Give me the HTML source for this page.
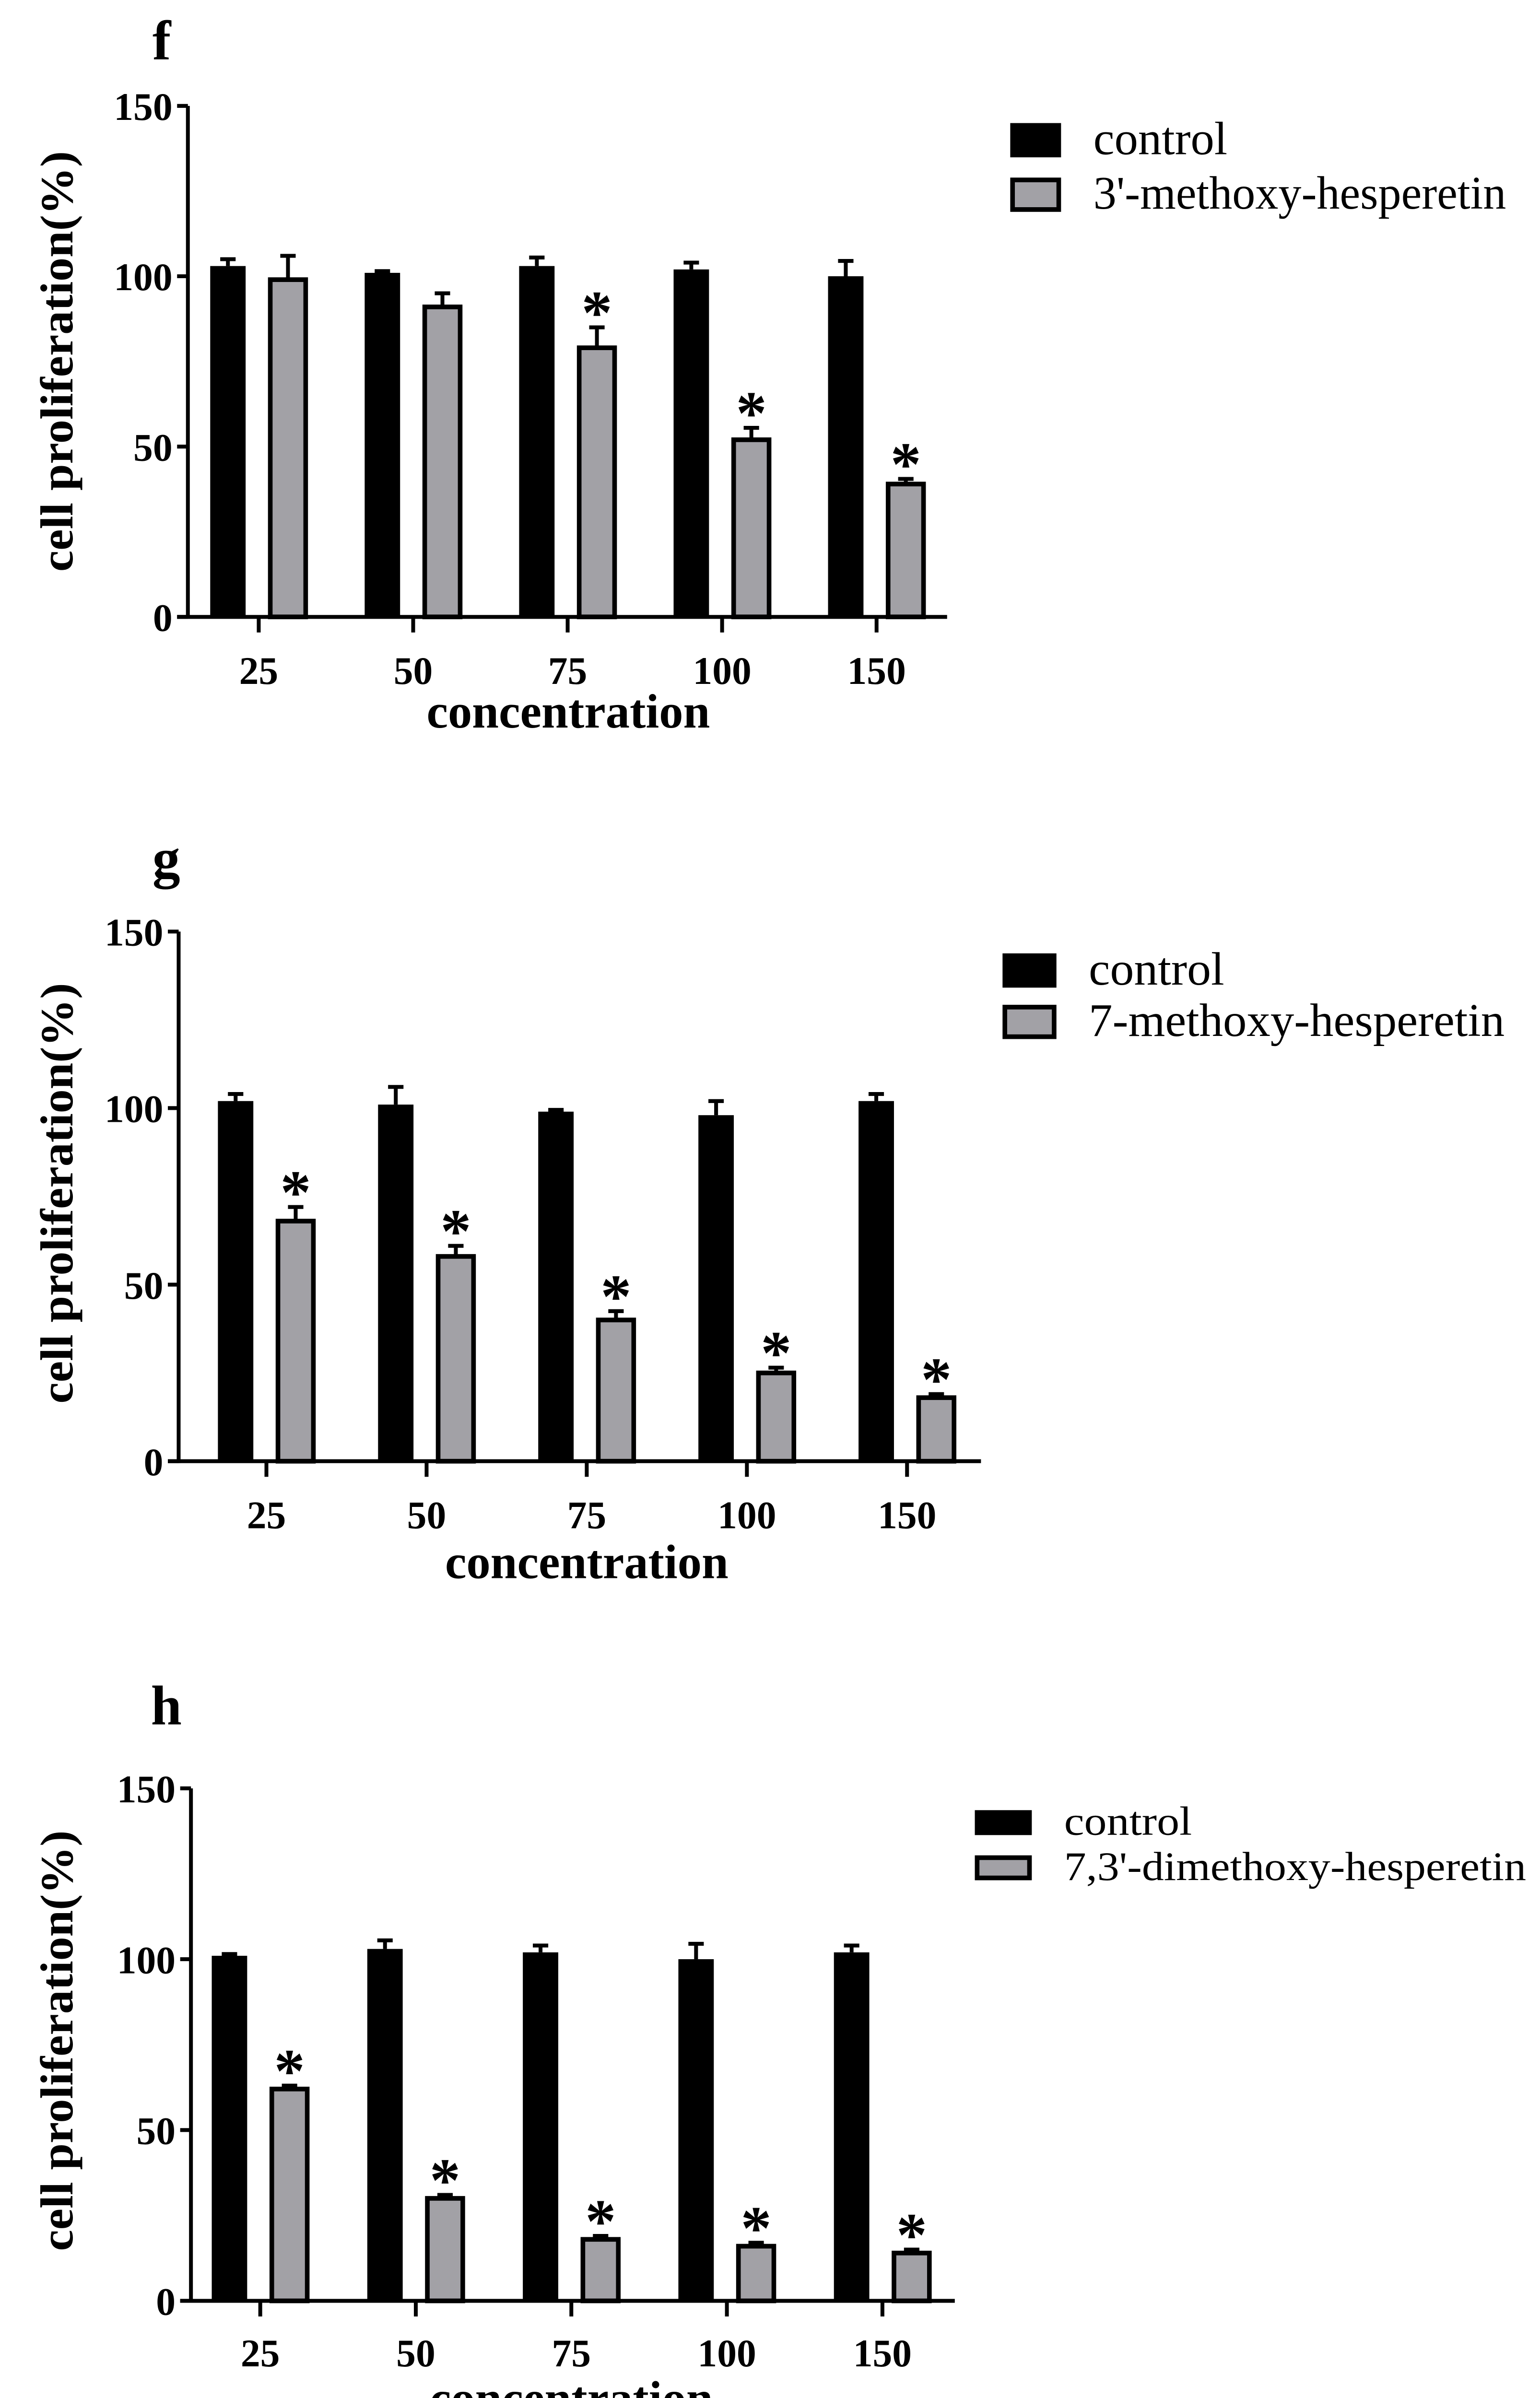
<!DOCTYPE html>
<html><head><meta charset="utf-8"><style>
html,body{margin:0;padding:0;background:#fff;width:3211px;height:5095px;overflow:hidden}
svg{display:block}
text{font-family:"Liberation Serif",serif}
</style></head><body>
<svg id="fig" width="3211" height="5095" viewBox="0 0 1000 1568.6" preserveAspectRatio="none" xmlns="http://www.w3.org/2000/svg"></svg>
<script>
const categories = ["25","50","75","100","150"];
const yTicks = [0,50,100,150];
const fControl = [103,101,103,102,100];
const fControlErr = [2,0.5,2.5,2,4.5];
const fTreated = [99,91,79,52,39];
const fTreatedErr = [7,4,6,3.5,1.5];
const gControl = [102,101,99,98,102];
const gControlErr = [2,5,0.5,4,2];
const gTreated = [68,58,40,25,18];
const gTreatedErr = [4,3,2.5,1.5,1];
const hControl = [101,103,102,100,102];
const hControlErr = [0.5,2.5,2,4.5,2];
const hTreated = [62,30,18,16,14];
const hTreatedErr = [1,1,1,1,1];
const fStars = [false,false,true,true,true];
const gStars = [true,true,true,true,true];
const hStars = [true,true,true,true,true];

const svg = document.getElementById('fig');
const NS = 'http://www.w3.org/2000/svg';
function mk(tag, attrs, parent){const e=document.createElementNS(NS,tag);for(const k in attrs)e.setAttribute(k,attrs[k]);(parent||svg).appendChild(e);return e;}

const panels = [
 {id:'f',letter:[105,38],ax:122,y150:68,y0:396,xEnd:615,cx0:168,step:100.3,ctrl:fControl,ctrlE:fControlErr,trt:fTreated,trtE:fTreatedErr,stars:fStars,
  leg:{bx:656,bw:33,y1:79,y2:114,bh:22,tx:710,fs:30,cl:87,ll:268,label:"3'-methoxy-hesperetin"},xl:430,xt:457,xtc:369,ytc:232},
 {id:'g',letter:[108,563],ax:116,y150:598,y0:938,xEnd:637,cx0:173,step:104,ctrl:gControl,ctrlE:gControlErr,trt:gTreated,trtE:gTreatedErr,stars:gStars,
  leg:{bx:651,bw:35,y1:612,y2:645,bh:22,tx:707,fs:30,cl:88,ll:270,label:"7-methoxy-hesperetin"},xl:972,xt:1003,xtc:381,ytc:766},
 {id:'h',letter:[108,1107],ax:124,y150:1148,y0:1477,xEnd:620,cx0:169,step:101,ctrl:hControl,ctrlE:hControlErr,trt:hTreated,trtE:hTreatedErr,stars:hStars,
  leg:{bx:633,bw:37,y1:1162,y2:1191,bh:16,tx:691,fs:26,cl:83,ll:300,label:"7,3'-dimethoxy-hesperetin"},xl:1510,xt:1540,xtc:371,ytc:1310}
];

panels.forEach(p=>{
  const g = mk('g',{});
  
  
  const y = v => p.y0 - (v/150)*(p.y0-p.y150);
  const xc = i => p.cx0 + i*p.step;
  const bw = 23;
  const lt = mk('text',{x:p.letter[0],y:p.letter[1],'font-size':36,'font-weight':'bold','text-anchor':'middle'},g);
  lt.textContent=p.id;
  
  
  function bar(i,val,err,off,fill,name){
    const cx = xc(i)+off;
    const top=y(val), etop=y(val+err);
    mk('line',{x1:cx,x2:cx,y1:top,y2:etop,stroke:'#000','stroke-width':2.5},g);
    mk('line',{x1:cx-5,x2:cx+5,y1:etop,y2:etop,stroke:'#000','stroke-width':2.5},g);
    const r = mk('rect',{x:cx-bw/2,y:top,width:bw,height:p.y0-top,fill:fill,stroke:'#000','stroke-width':fill==='#000'?0:3},g);
    
    
    return etop;
  }
  categories.forEach((c,i)=>{
    bar(i,p.ctrl[i],p.ctrlE[i],-20,'#000','bar-control-'+c);
    const et = bar(i,p.trt[i],p.trtE[i],19,'#a2a1a6','bar-treated-'+c);
    if(p.stars[i]){
      const s=mk('text',{x:xc(i)+19,y:et+4,'font-size':40,'font-weight':'bold','text-anchor':'middle'},g);
      s.textContent='*';
      
      
    }
    mk('line',{x1:xc(i),x2:xc(i),y1:p.y0,y2:p.y0+10,stroke:'#000','stroke-width':2.5},g);
    const tl=mk('text',{x:xc(i),y:p.xl+9,'font-size':25,'font-weight':'bold','text-anchor':'middle',textLength:c.length*12.7,lengthAdjust:'spacingAndGlyphs'},g);
    tl.textContent=c;
    
    
  });
  const ya=mk('line',{x1:p.ax,x2:p.ax,y1:p.y150,y2:p.y0+1.2,stroke:'#000','stroke-width':2.5},g);
  
  
  const xa=mk('line',{x1:p.ax-7,x2:p.xEnd,y1:p.y0,y2:p.y0,stroke:'#000','stroke-width':2.5},g);
  
  
  yTicks.forEach(t=>{
    mk('line',{x1:p.ax-7,x2:p.ax,y1:y(t),y2:y(t),stroke:'#000','stroke-width':2.5},g);
    const s=String(t);
    const tl=mk('text',{x:p.ax-10,y:y(t)+9,'font-size':25,'font-weight':'bold','text-anchor':'end',textLength:s.length*12.7,lengthAdjust:'spacingAndGlyphs'},g);
    tl.textContent=s;
    
    
  });
  const xt=mk('text',{x:p.xtc,y:p.xt+10,'font-size':31,'font-weight':'bold','text-anchor':'middle',textLength:184,lengthAdjust:'spacingAndGlyphs'},g);
  xt.textContent='concentration';
  
  
  const yt=mk('text',{x:0,y:0,'font-size':30,'font-weight':'bold','text-anchor':'middle',textLength:270,lengthAdjust:'spacingAndGlyphs',transform:`translate(47,${p.ytc}) rotate(-90)`},g);
  yt.textContent='cell proliferation(%)';
  
  
  const L=p.leg;
  const r1=mk('rect',{x:L.bx,y:L.y1,width:L.bw,height:L.bh,fill:'#000'},g);
  
  
  const t1=mk('text',{x:L.tx,y:L.y1+L.bh/2+L.fs*0.3,'font-size':L.fs,textLength:L.cl,lengthAdjust:'spacingAndGlyphs'},g);
  t1.textContent='control';
  
  
  const r2=mk('rect',{x:L.bx+1.5,y:L.y2+1.5,width:L.bw-3,height:L.bh-3,fill:'#a2a1a6',stroke:'#000','stroke-width':3},g);
  
  
  const t2=mk('text',{x:L.tx,y:L.y2+L.bh/2+L.fs*0.3,'font-size':L.fs,textLength:L.ll,lengthAdjust:'spacingAndGlyphs'},g);
  t2.textContent=L.label;
  
  
});
</script>
</body></html>
